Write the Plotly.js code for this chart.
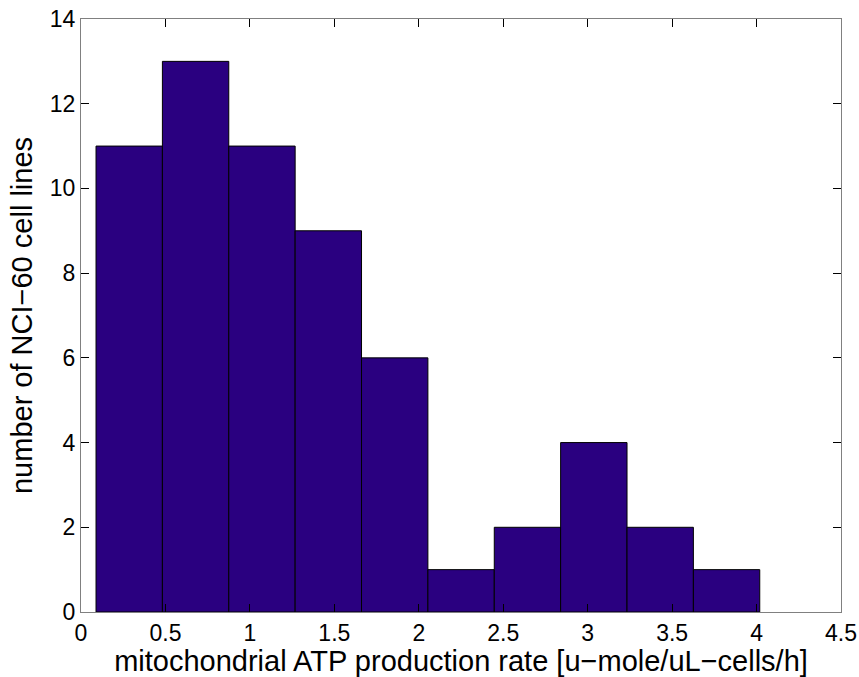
<!DOCTYPE html>
<html>
<head>
<meta charset="utf-8">
<script src="https://cdn.plot.ly/plotly-3.0.1.min.js"></script>
<style>
  html, body { margin: 0; padding: 0; background: #fff; }
  #chart { width: 859px; height: 677px; }
</style>
</head>
<body>
<div id="chart"></div>
<script>
// Histogram bin edges (10 equal-width bins) and the count in each bin
const binEdges = [0.089, 0.482, 0.875, 1.268, 1.661, 2.054, 2.447, 2.840, 3.233, 3.626, 4.019];
const binCounts = [11, 13, 11, 9, 6, 1, 2, 4, 2, 1];

const xTickVals = [0, 0.5, 1, 1.5, 2, 2.5, 3, 3.5, 4, 4.5];
const xTickText = ['0', '0.5', '1', '1.5', '2', '2.5', '3', '3.5', '4', '4.5'];
const yTickVals = [0, 2, 4, 6, 8, 10, 12, 14];

const centers = binCounts.map((_, i) => (binEdges[i] + binEdges[i + 1]) / 2);
const widths = binCounts.map((_, i) => binEdges[i + 1] - binEdges[i]);

const trace = {
  type: 'bar',
  x: centers,
  y: binCounts,
  width: widths,
  marker: { color: '#2a0080', line: { color: '#000000', width: 1 } },
  hoverinfo: 'x+y'
};

const font = { family: 'Liberation Sans, Arial, sans-serif', color: '#000' };

const axisCommon = {
  showline: true,
  linecolor: '#808080',
  linewidth: 1,
  mirror: 'ticks',
  ticks: 'inside',
  ticklen: 8,
  tickcolor: '#000',
  tickwidth: 1,
  showgrid: false,
  zeroline: false,
  tickfont: Object.assign({ size: 23 }, font)
};

const layout = {
  width: 859,
  height: 677,
  margin: { l: 81, r: 18, t: 19, b: 65 },
  paper_bgcolor: '#fff',
  plot_bgcolor: '#fff',
  showlegend: false,
  bargap: 0,
  xaxis: Object.assign({}, axisCommon, {
    range: [0, 4.5],
    tickvals: xTickVals,
    ticktext: xTickText,
    title: { text: 'mitochondrial ATP production rate [u\u2212mole/uL\u2212cells/h]', font: Object.assign({ size: 29 }, font), standoff: 2 }
  }),
  yaxis: Object.assign({}, axisCommon, {
    range: [0, 14],
    tickvals: yTickVals,
    title: { text: 'number of NCI\u221260 cell lines', font: Object.assign({ size: 29 }, font), standoff: 8 }
  })
};

Plotly.newPlot('chart', [trace], layout, { displayModeBar: false, staticPlot: true });
</script>
</body>
</html>
